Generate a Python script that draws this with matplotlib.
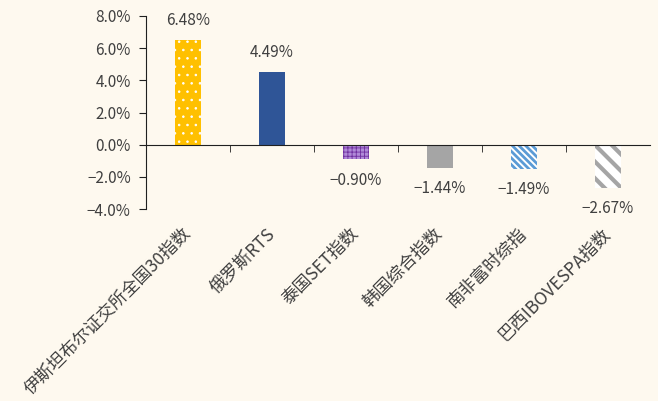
import numpy as np
import matplotlib
matplotlib.use('Agg')
import matplotlib.pyplot as plt
from matplotlib.ticker import FuncFormatter, FixedLocator

plt.rcParams['font.family'] = ['Noto Sans CJK SC', 'DejaVu Sans']
plt.rcParams['axes.unicode_minus'] = False

# dados
indices = ['伊斯坦布尔证交所全国30指数', '俄罗斯RTS', '泰国SET指数',
           '韩国综合指数', '南非富时综指', '巴西IBOVESPA指数']
retornos = [6.48, 4.49, -0.90, -1.44, -1.49, -2.67]

cores_face = ['#FFC000', '#2F5597', '#B08AD8', '#A5A5A5', '#FFFFFF', '#FFFFFF']
cores_hatch = ['#FFFFFF', '#2F5597', '#7030A0', '#A5A5A5', '#5B9BD5', '#A5A5A5']
hatches = ['..', '', '++++', '', '\\\\\\\\\\', '\\\\']
larguras_hatch = [0.6, 1.0, 0.6, 1.0, 2.0, 3.0]

fundo = '#FEF9EF'
cor_texto = '#404040'

fig = plt.figure(figsize=(6.58, 4.01), dpi=100, facecolor=fundo)
ax = fig.add_axes([0.2219, 0.4788, 0.7659, 0.4813], facecolor=fundo)

x = np.arange(len(indices))
for i in range(len(indices)):
    barra = ax.bar(x[i], retornos[i], width=0.32, color=cores_face[i],
                   edgecolor=cores_hatch[i], hatch=hatches[i], linewidth=0)[0]
    if hasattr(barra, 'set_hatch_linewidth'):
        barra.set_hatch_linewidth(larguras_hatch[i])
    if retornos[i] >= 0:
        ax.annotate(f'{retornos[i]:.2f}%', (x[i], retornos[i]), xytext=(0, 8),
                    textcoords='offset points', ha='center', va='bottom',
                    fontsize=11, color=cor_texto)
    else:
        ax.annotate(f'{retornos[i]:.2f}%'.replace('-', '−'), (x[i], retornos[i]),
                    xytext=(0, -9), textcoords='offset points', ha='center',
                    va='top', fontsize=11, color=cor_texto)

ax.set_xlim(-0.5, len(indices) - 0.5)
ax.set_ylim(-4, 8)
ax.set_yticks(np.arange(-4, 8.1, 2))
ax.yaxis.set_major_formatter(FuncFormatter(lambda v, p: f'{v:.1f}%'.replace('-', '−')))

ax.spines['top'].set_visible(False)
ax.spines['right'].set_visible(False)
ax.spines['bottom'].set_position(('data', 0))
ax.spines['bottom'].set_color('#202020')
ax.spines['left'].set_color('#202020')

ax.set_xticks(x)
ax.set_xticklabels(indices, rotation=45, ha='right', va='center',
                   rotation_mode='anchor', fontsize=12.5, color=cor_texto)
ax.xaxis.set_minor_locator(FixedLocator(x[:-1] + 0.5))
ax.tick_params(axis='x', which='major', length=0, pad=62)
ax.tick_params(axis='x', which='minor', length=5, direction='out', color='#202020')
ax.tick_params(axis='y', length=5, direction='out', color='#202020',
               labelsize=11, labelcolor=cor_texto, pad=6)

fig.savefig('out.png', dpi=100, facecolor=fundo)
